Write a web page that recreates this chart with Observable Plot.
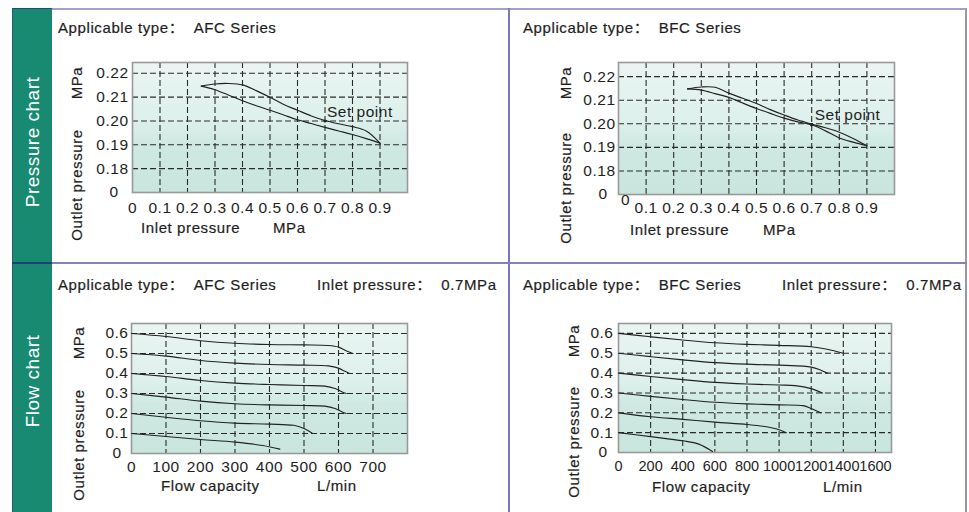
<!DOCTYPE html>
<html><head><meta charset="utf-8">
<script src="https://cdn.jsdelivr.net/npm/d3@7"></script>
<script src="https://cdn.jsdelivr.net/npm/@observablehq/plot@0.6"></script>
<style>
body{margin:0;background:#fff}
#root{position:relative;width:969px;height:512px;overflow:hidden;background:#fff;font-family:"Liberation Sans","Noto Sans CJK SC",Arial,sans-serif;color:#1e1e1e}
.ln{position:absolute}
.t{position:absolute;white-space:nowrap;font-size:15px;line-height:15px;letter-spacing:0.6px;color:#1e1e1e;-webkit-text-stroke:0.2px #1e1e1e}
.t .c{display:inline-block;width:25px;font-family:"Noto Sans CJK SC",sans-serif;letter-spacing:0}
.v{position:absolute;white-space:nowrap;font-size:15px;line-height:15px;letter-spacing:0.6px;color:#1e1e1e;-webkit-text-stroke:0.2px #1e1e1e;transform:translate(-50%,-50%) rotate(-90deg)}
.side{color:#fff;font-size:19px;line-height:19px;letter-spacing:0.5px;-webkit-text-stroke:0}
.plot text{stroke:#1e1e1e;stroke-width:0.2px}
</style></head>
<body>
<svg width="0" height="0" style="position:absolute"><defs>
<linearGradient id="panelBg" x1="0" y1="0" x2="0" y2="1">
<stop offset="0" stop-color="#eaf5f2"/>
<stop offset="0.45" stop-color="#ddf0eb"/>
<stop offset="0.62" stop-color="#cfe9e2"/>
<stop offset="1" stop-color="#c8e5de"/>
</linearGradient></defs></svg>
<div id="root"></div>
<script>
// ---------- data ----------
const inletPressure = [0.25, 0.3, 0.35, 0.4, 0.45, 0.5, 0.55, 0.6, 0.65, 0.7, 0.75, 0.8, 0.85, 0.9];
const afcUpper = [0.2146, 0.2155, 0.2157, 0.2151, 0.2127, 0.2099, 0.2069, 0.2045, 0.2021, 0.2002, 0.1988, 0.1976, 0.1958, 0.1907];
const afcLower = [0.2146, 0.2131, 0.2108, 0.2085, 0.2064, 0.2045, 0.2025, 0.2005, 0.1989, 0.1973, 0.1958, 0.1943, 0.1926, 0.1907];
const bfcUpper = [0.2148, 0.2156, 0.2155, 0.2130, 0.2108, 0.2086, 0.2060, 0.2037, 0.2016, 0.1999, 0.1983, 0.1964, 0.1938, 0.1907];
const bfcLower = [0.2148, 0.2143, 0.2128, 0.2112, 0.2088, 0.2065, 0.2044, 0.2024, 0.2008, 0.1996, 0.1970, 0.1940, 0.1922, 0.1907];
const setPointAfc = {x: 0.7, y: 0.2000, label: "Set point"};
const setPointBfc = {x: 0.7, y: 0.1996, label: "Set point"};

const pressureXTicks = [0, 0.1, 0.2, 0.3, 0.4, 0.5, 0.6, 0.7, 0.8, 0.9];
const pressureYTicks = [0.18, 0.19, 0.20, 0.21, 0.22];
const pressureYBreak = 0.17; // axis break, labelled "0"

// AFC flow (L/min vs outlet MPa), inlet 0.7 MPa
const afcQ6 = [0, 100, 200, 300, 400, 500, 570, 600, 620, 642];
const afcP6 = [0.60, 0.585, 0.564, 0.551, 0.545, 0.543, 0.540, 0.532, 0.515, 0.50];
const afcQ5 = [0, 100, 200, 300, 400, 500, 570, 600, 617, 632];
const afcP5 = [0.50, 0.487, 0.465, 0.452, 0.445, 0.442, 0.438, 0.427, 0.412, 0.40];
const afcQ4 = [0, 100, 200, 300, 400, 500, 560, 590, 608, 622];
const afcP4 = [0.40, 0.385, 0.365, 0.352, 0.345, 0.340, 0.337, 0.325, 0.31, 0.30];
const afcQ3 = [0, 100, 200, 300, 400, 500, 560, 590, 608, 622];
const afcP3 = [0.30, 0.282, 0.262, 0.249, 0.243, 0.240, 0.237, 0.225, 0.21, 0.20];
const afcQ2 = [0, 100, 200, 300, 400, 470, 500, 523];
const afcP2 = [0.20, 0.181, 0.164, 0.152, 0.147, 0.141, 0.125, 0.103];
const afcQ1 = [0, 100, 200, 300, 380, 430];
const afcP1 = [0.10, 0.085, 0.070, 0.057, 0.040, 0.022];

// BFC flow
const bfcQ6 = [0, 200, 400, 600, 800, 1000, 1200, 1300, 1400];
const bfcP6 = [0.60, 0.583, 0.567, 0.553, 0.545, 0.540, 0.533, 0.52, 0.50];
const bfcQ5 = [0, 200, 400, 600, 800, 1000, 1150, 1200, 1250, 1300];
const bfcP5 = [0.50, 0.483, 0.467, 0.453, 0.445, 0.440, 0.435, 0.430, 0.418, 0.40];
const bfcQ4 = [0, 200, 400, 600, 800, 1000, 1100, 1200, 1270];
const bfcP4 = [0.40, 0.383, 0.367, 0.353, 0.345, 0.340, 0.337, 0.322, 0.30];
const bfcQ3 = [0, 200, 400, 600, 800, 1000, 1150, 1200, 1260];
const bfcP3 = [0.30, 0.283, 0.267, 0.253, 0.245, 0.240, 0.236, 0.222, 0.20];
const bfcQ2 = [0, 200, 400, 600, 800, 900, 1000, 1045];
const bfcP2 = [0.20, 0.18, 0.167, 0.153, 0.141, 0.132, 0.115, 0.10];
const bfcQ1 = [0, 200, 400, 500, 585];
const bfcP1 = [0.10, 0.08, 0.059, 0.042, 0.005];

const afcFlowXTicks = [0, 100, 200, 300, 400, 500, 600, 700];
const bfcFlowXTicks = [0, 200, 400, 600, 800, 1000, 1200, 1400, 1600];
const flowYTicks = [0.1, 0.2, 0.3, 0.4, 0.5, 0.6];

// ---------- helpers ----------
const root = document.getElementById("root");
const font = '"Liberation Sans", Arial, sans-serif';
const pts = (xs, ys) => xs.map((x, i) => ({x, y: ys[i]}));
const gridStyle = {stroke: "#2a2a2a", strokeOpacity: 1, strokeWidth: 1.1, strokeDasharray: "6,3"};

function makePlot(o) {
  const svg = Plot.plot({
    width: o.width, height: o.height,
    marginTop: o.m[0], marginRight: o.m[1], marginBottom: o.m[2], marginLeft: o.m[3],
    x: {domain: o.xDomain}, y: {domain: o.yDomain},
    style: {fontFamily: font, fontSize: "15.5px", letterSpacing: "0.5px", color: "#1e1e1e", background: "transparent", overflow: "visible"},
    marks: [
      Plot.frame({fill: "url(#panelBg)", stroke: "none"}),
      Plot.gridX(o.xGrid, gridStyle),
      Plot.gridY(o.yGrid, gridStyle),
      Plot.frame({stroke: "#999", strokeWidth: 1.6}),
      ...o.lines.map(l => Plot.line(l, {x: "x", y: "y", curve: "catmull-rom", stroke: "#222", strokeWidth: 1.15})),
      Plot.axisX(o.xTicks, {tickSize: 0, tickPadding: o.xPad, tickFormat: o.xFormat, label: null, fontSize: o.xFont, ...(o.xTickStyle || {})}),
      Plot.axisY(o.yTicks, {tickSize: 0, tickPadding: o.yPad, tickFormat: o.yFormat, label: null}),
      Plot.axisY([o.yZero], {tickSize: 0, tickPadding: o.zeroPad, tickFormat: () => "0", label: null}),
      ...(o.extra || [])
    ]
  });
  svg.style.position = "absolute";
  svg.style.left = o.left + "px";
  svg.style.top = o.top + "px";
  root.appendChild(svg);
  return svg;
}

function box(l, t, w, h, c) {
  const d = document.createElement("div");
  d.className = "ln";
  Object.assign(d.style, {left: l + "px", top: t + "px", width: w + "px", height: h + "px", background: c});
  root.appendChild(d);
  return d;
}
function txt(s, l, t) {
  const d = document.createElement("div");
  d.className = "t";
  const parts = s.split("：");
  if (parts.length === 2) {
    d.append(parts[0]);
    const c = document.createElement("span"); c.className = "c"; c.textContent = "：";
    d.append(c, parts[1]);
  } else d.textContent = s;
  d.style.left = l + "px"; d.style.top = t + "px";
  root.appendChild(d);
}
function vtxt(s, cx, cy, cls) {
  const d = document.createElement("div");
  d.className = "v" + (cls ? " " + cls : ""); d.textContent = s;
  d.style.left = cx + "px"; d.style.top = cy + "px";
  root.appendChild(d);
}

// ---------- frame / layout ----------
const bar = box(12, 8, 40, 510, "#178a71");
bar.style.borderTop = "1px solid #244a78";
bar.style.borderLeft = "1px solid #235d72";
bar.style.boxSizing = "border-box";
box(52, 8, 915, 2, "#a3a0cc");
box(965, 8, 2, 504, "#9794b8");
box(508, 8, 2, 504, "#7a76b6");
box(52, 262, 915, 2, "#8480bd");
box(12, 262, 40, 2, "#1f3f78");

// ---------- plots ----------
const pFmtX = d => d === 0 ? "0" : d.toFixed(1);
const pFmtY = d => d.toFixed(2);

makePlot({
  left: 60, top: 50, width: 360, height: 175, m: [12, 13, 33, 72],
  xDomain: [0, 1], yDomain: [pressureYBreak, 0.2245],
  xGrid: pressureXTicks.slice(1), yGrid: pressureYTicks,
  xTicks: pressureXTicks, xFormat: pFmtX, xPad: 9,
  yTicks: pressureYTicks, yFormat: pFmtY, yPad: 4, yZero: pressureYBreak, zeroPad: 14,
  lines: [pts(inletPressure, afcUpper), pts(inletPressure, afcLower)],
  extra: [
    Plot.dot([setPointAfc], {x: "x", y: "y", r: 1.5, fill: "#222"}),
    Plot.text([setPointAfc], {x: "x", y: "y", text: "label", textAnchor: "start", dx: 2, dy: -9, fill: "#1e1e1e"})
  ]
});

makePlot({
  left: 548, top: 50, width: 360, height: 175, m: [12, 14, 31, 70],
  xDomain: [0, 1], yDomain: [pressureYBreak, 0.226],
  xGrid: pressureXTicks.slice(1), yGrid: pressureYTicks,
  xTicks: pressureXTicks.slice(1), xFormat: pFmtX, xPad: 7,
  yTicks: pressureYTicks, yFormat: pFmtY, yPad: 3, yZero: pressureYBreak, zeroPad: 11,
  lines: [pts(inletPressure, bfcUpper), pts(inletPressure, bfcLower)],
  extra: [
    Plot.text([pressureXTicks[0]], {x: d => d, frameAnchor: "bottom", lineAnchor: "top", text: d => "0", dx: 7, dy: -1, fill: "#1e1e1e"}),
    Plot.dot([setPointBfc], {x: "x", y: "y", r: 1.8, fill: "#222"}),
    Plot.text([setPointBfc], {x: "x", y: "y", text: "label", textAnchor: "start", dx: 3, dy: -10, fill: "#1e1e1e"})
  ]
});

const fFmtY = d => d.toFixed(1);
const fFmtX = d => String(d);

makePlot({
  left: 60, top: 310, width: 360, height: 170, m: [13, 13, 27, 71],
  xDomain: [0, 800], yDomain: [0, 0.65],
  xGrid: afcFlowXTicks.slice(1), yGrid: flowYTicks,
  xTicks: afcFlowXTicks, xFormat: fFmtX, xPad: 7,
  yTicks: flowYTicks, yFormat: fFmtY, yPad: 3, yZero: 0, zeroPad: 10,
  lines: [pts(afcQ6, afcP6), pts(afcQ5, afcP5), pts(afcQ4, afcP4), pts(afcQ3, afcP3), pts(afcQ2, afcP2), pts(afcQ1, afcP1)]
});

const bfcFlowSvg = makePlot({
  left: 548, top: 310, width: 360, height: 170, m: [13, 17, 28, 70],
  xDomain: [0, 1700], yDomain: [0, 0.65],
  xGrid: bfcFlowXTicks.slice(1), yGrid: flowYTicks,
  xTicks: bfcFlowXTicks, xFormat: fFmtX, xPad: 8, xFont: 14.5,
  yTicks: flowYTicks, yFormat: fFmtY, yPad: 5, yZero: 0, zeroPad: 11,
  lines: [pts(bfcQ6, bfcP6), pts(bfcQ5, bfcP5), pts(bfcQ4, bfcP4), pts(bfcQ3, bfcP3), pts(bfcQ2, bfcP2), pts(bfcQ1, bfcP1)]
});
bfcFlowSvg.querySelectorAll('g[aria-label="x-axis tick label"] text').forEach(t => t.style.letterSpacing = "0px");

// ---------- texts ----------
vtxt("Pressure chart", 32, 142, "side");
vtxt("Flow chart", 32, 381, "side");

txt("Applicable type：AFC Series", 58, 19);
txt("Applicable type：BFC Series", 523, 19);
txt("Applicable type：AFC Series", 58, 276);
txt("Inlet pressure：0.7MPa", 317, 276);
txt("Applicable type：BFC Series", 523, 276);
txt("Inlet pressure：0.7MPa", 782, 276);

vtxt("Outlet pressure", 75.5, 184.5);
vtxt("MPa", 75.5, 83);
vtxt("Outlet pressure", 565, 187.5);
vtxt("MPa", 565, 82.5);
vtxt("Outlet pressure", 77.5, 445);
vtxt("MPa", 77.5, 343);
vtxt("Outlet pressure", 572.5, 442);
vtxt("MPa", 572.5, 341);

txt("Inlet pressure", 141, 220);
txt("MPa", 273, 220);
txt("Inlet pressure", 630, 222);
txt("MPa", 763, 222);
txt("Flow capacity", 161, 478);
txt("L/min", 317, 478);
txt("Flow capacity", 652, 479);
txt("L/min", 823, 479);
</script>
</body></html>
